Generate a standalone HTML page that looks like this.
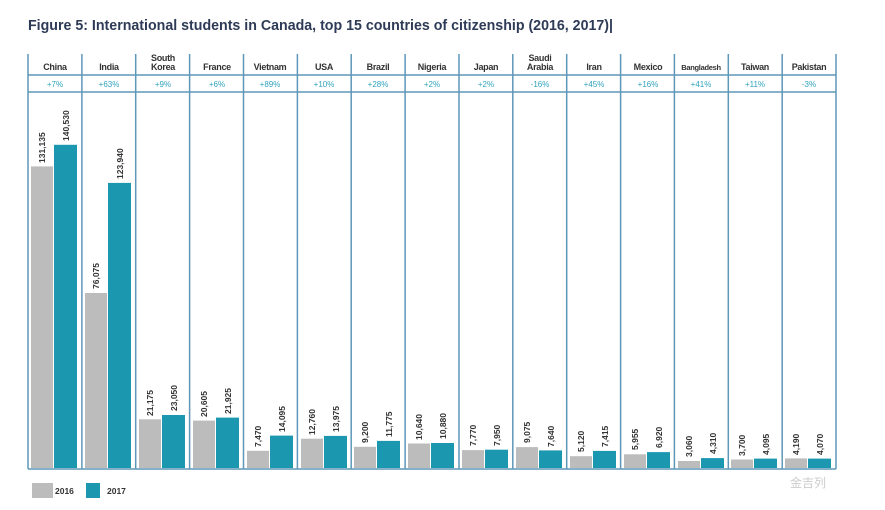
<!DOCTYPE html>
<html><head><meta charset="utf-8"><style>
html,body{margin:0;padding:0;background:#fff;}
svg{display:block;font-family:"Liberation Sans",sans-serif;}
.h{font-size:9px;font-weight:bold;fill:#333;text-anchor:middle;letter-spacing:-0.3px}
.p{font-size:8px;fill:#2fa3bd;text-anchor:middle}
.v{font-size:8.5px;font-weight:bold;fill:#333}
.g{fill:#bcbcbc}.t{fill:#1b98b0}
.l{stroke:#5e97b8;stroke-width:1.5}
</style></head><body>
<svg width="885" height="510" viewBox="0 0 885 510">
<text x="28" y="30" font-size="14.5" font-weight="bold" fill="#2e3b56" textLength="585" lengthAdjust="spacingAndGlyphs">Figure 5: International students in Canada, top 15 countries of citizenship (2016, 2017)|</text>
<g class="l">
<line x1="28" y1="54" x2="28" y2="469"/><line x1="81.9" y1="54" x2="81.9" y2="469"/><line x1="135.7" y1="54" x2="135.7" y2="469"/><line x1="189.6" y1="54" x2="189.6" y2="469"/><line x1="243.5" y1="54" x2="243.5" y2="469"/><line x1="297.4" y1="54" x2="297.4" y2="469"/><line x1="351.2" y1="54" x2="351.2" y2="469"/><line x1="405.1" y1="54" x2="405.1" y2="469"/><line x1="459" y1="54" x2="459" y2="469"/><line x1="512.8" y1="54" x2="512.8" y2="469"/><line x1="566.7" y1="54" x2="566.7" y2="469"/><line x1="620.6" y1="54" x2="620.6" y2="469"/><line x1="674.4" y1="54" x2="674.4" y2="469"/><line x1="728.3" y1="54" x2="728.3" y2="469"/><line x1="782.2" y1="54" x2="782.2" y2="469"/><line x1="836" y1="54" x2="836" y2="469"/>
<line x1="28" y1="75" x2="836" y2="75"/><line x1="28" y1="92" x2="836" y2="92"/><line x1="28" y1="469" x2="836" y2="469"/>
</g>
<g class="h">
<text x="55" y="70">China</text><text x="109" y="70">India</text><text x="163" y="61">South</text><text x="163" y="70">Korea</text><text x="217" y="70">France</text><text x="270" y="70">Vietnam</text><text x="324" y="70">USA</text><text x="378" y="70">Brazil</text><text x="432" y="70">Nigeria</text><text x="486" y="70">Japan</text><text x="540" y="61">Saudi</text><text x="540" y="70">Arabia</text><text x="594" y="70">Iran</text><text x="648" y="70">Mexico</text><text x="701" y="70" font-size="7.5">Bangladesh</text><text x="755" y="70">Taiwan</text><text x="809" y="70">Pakistan</text>
</g>
<g class="p">
<text x="55" y="87">+7%</text><text x="109" y="87">+63%</text><text x="163" y="87">+9%</text><text x="217" y="87">+6%</text><text x="270" y="87">+89%</text><text x="324" y="87">+10%</text><text x="378" y="87">+28%</text><text x="432" y="87">+2%</text><text x="486" y="87">+2%</text><text x="540" y="87">-16%</text><text x="594" y="87">+45%</text><text x="648" y="87">+16%</text><text x="701" y="87">+41%</text><text x="755" y="87">+11%</text><text x="809" y="87">-3%</text>
</g>
<g>
<rect class="g" x="31" y="166.4" width="22" height="301.6"/><rect class="t" x="54" y="144.8" width="23" height="323.2"/>
<rect class="g" x="85" y="293" width="22" height="175"/><rect class="t" x="108" y="182.9" width="23" height="285.1"/>
<rect class="g" x="139" y="419.3" width="22" height="48.7"/><rect class="t" x="162" y="415" width="23" height="53"/>
<rect class="g" x="193" y="420.6" width="22" height="47.4"/><rect class="t" x="216" y="417.6" width="23" height="50.4"/>
<rect class="g" x="247" y="450.8" width="22" height="17.2"/><rect class="t" x="270" y="435.6" width="23" height="32.4"/>
<rect class="g" x="301" y="438.7" width="22" height="29.3"/><rect class="t" x="324" y="435.9" width="23" height="32.1"/>
<rect class="g" x="354" y="446.8" width="22" height="21.2"/><rect class="t" x="377" y="440.9" width="23" height="27.1"/>
<rect class="g" x="408" y="443.5" width="22" height="24.5"/><rect class="t" x="431" y="443" width="23" height="25"/>
<rect class="g" x="462" y="450.1" width="22" height="17.9"/><rect class="t" x="485" y="449.7" width="23" height="18.3"/>
<rect class="g" x="516" y="447.1" width="22" height="20.9"/><rect class="t" x="539" y="450.4" width="23" height="17.6"/>
<rect class="g" x="570" y="456.2" width="22" height="11.8"/><rect class="t" x="593" y="450.9" width="23" height="17.1"/>
<rect class="g" x="624" y="454.3" width="22" height="13.7"/><rect class="t" x="647" y="452.1" width="23" height="15.9"/>
<rect class="g" x="678" y="461" width="22" height="7"/><rect class="t" x="701" y="458.1" width="23" height="9.9"/>
<rect class="g" x="731" y="459.5" width="22" height="8.5"/><rect class="t" x="754" y="458.6" width="23" height="9.4"/>
<rect class="g" x="785" y="458.4" width="22" height="9.6"/><rect class="t" x="808" y="458.6" width="23" height="9.4"/>
</g>
<g class="v">
<text transform="translate(45,163) rotate(-90)">131,135</text><text transform="translate(69,141) rotate(-90)">140,530</text>
<text transform="translate(99,289) rotate(-90)">76,075</text><text transform="translate(123,179) rotate(-90)">123,940</text>
<text transform="translate(153,416) rotate(-90)">21,175</text><text transform="translate(177,411) rotate(-90)">23,050</text>
<text transform="translate(207,417) rotate(-90)">20,605</text><text transform="translate(231,414) rotate(-90)">21,925</text>
<text transform="translate(261,447) rotate(-90)">7,470</text><text transform="translate(285,432) rotate(-90)">14,095</text>
<text transform="translate(315,435) rotate(-90)">12,760</text><text transform="translate(339,432) rotate(-90)">13,975</text>
<text transform="translate(368,443) rotate(-90)">9,200</text><text transform="translate(392,437) rotate(-90)">11,775</text>
<text transform="translate(422,440) rotate(-90)">10,640</text><text transform="translate(446,439) rotate(-90)">10,880</text>
<text transform="translate(476,446) rotate(-90)">7,770</text><text transform="translate(500,446) rotate(-90)">7,950</text>
<text transform="translate(530,443) rotate(-90)">9,075</text><text transform="translate(554,447) rotate(-90)">7,640</text>
<text transform="translate(584,452) rotate(-90)">5,120</text><text transform="translate(608,447) rotate(-90)">7,415</text>
<text transform="translate(638,450) rotate(-90)">5,955</text><text transform="translate(662,448) rotate(-90)">6,920</text>
<text transform="translate(692,457) rotate(-90)">3,060</text><text transform="translate(716,454) rotate(-90)">4,310</text>
<text transform="translate(745,456) rotate(-90)">3,700</text><text transform="translate(769,455) rotate(-90)">4,095</text>
<text transform="translate(799,455) rotate(-90)">4,190</text><text transform="translate(823,455) rotate(-90)">4,070</text>
</g>
<rect class="g" x="32" y="483" width="21" height="15"/><text x="55" y="494" font-size="8.5" font-weight="bold" fill="#333">2016</text>
<rect class="t" x="86" y="483" width="14" height="15"/><text x="107" y="494" font-size="8.5" font-weight="bold" fill="#333">2017</text>
<text x="790" y="487" font-size="12" fill="#ccc" font-family="'Liberation Sans','Noto Sans CJK SC',sans-serif">金吉列</text>
</svg>
</body></html>
